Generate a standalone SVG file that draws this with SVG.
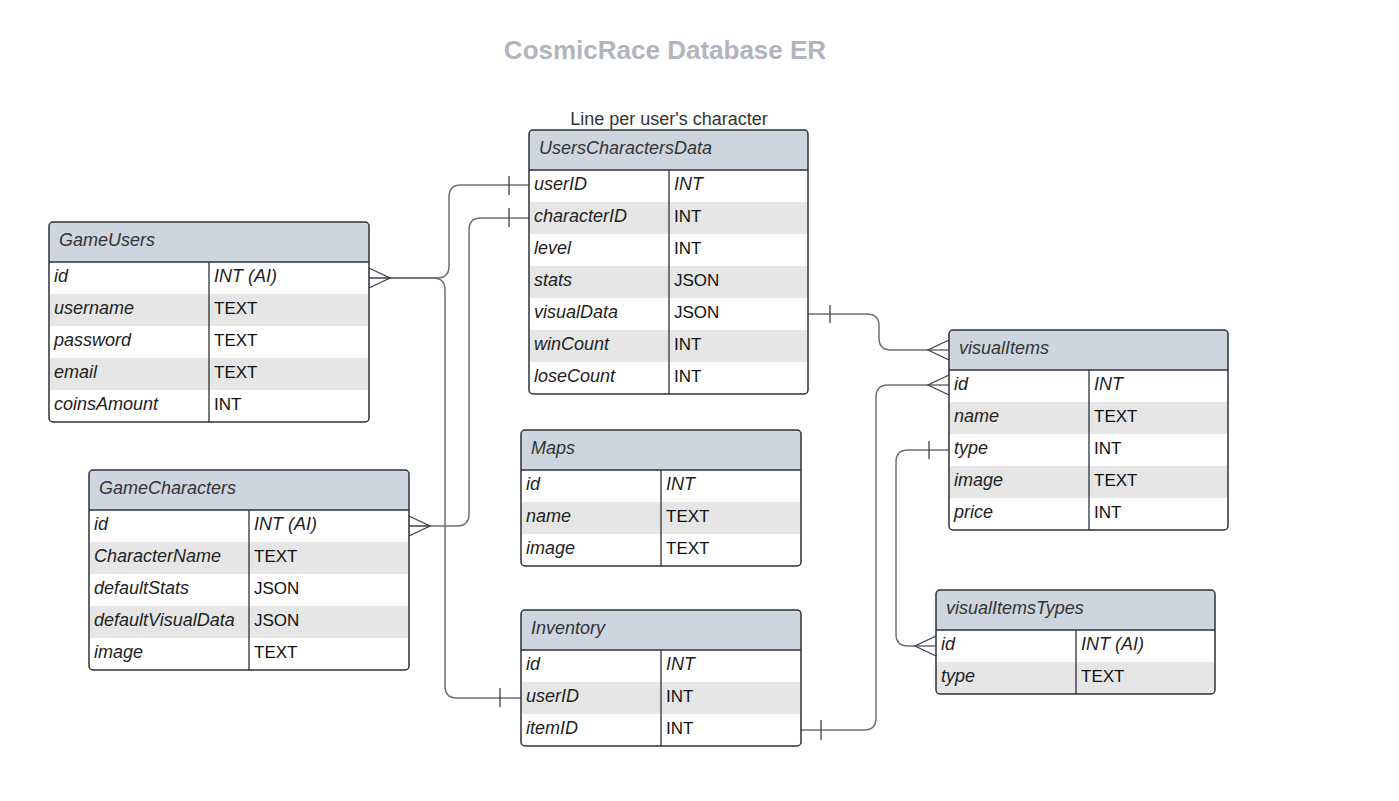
<svg xmlns="http://www.w3.org/2000/svg" width="1399" height="801" viewBox="0 0 1399 801">
<style>
.hdr{fill:#cfd5de}
.alt{fill:#e6e6e6}
.sep{stroke:#2e3238;stroke-width:1.3;fill:none}
.box{fill:none;stroke:#2e3238;stroke-width:1.5}
.ht{font-family:"Liberation Sans",Arial,sans-serif;font-size:18px;font-style:italic;fill:#333}
.fn{font-family:"Liberation Sans",Arial,sans-serif;font-size:18px;font-style:italic;fill:#222}
.ty{font-family:"Liberation Sans",Arial,sans-serif;font-size:17px;fill:#111}
.tyi{font-family:"Liberation Sans",Arial,sans-serif;font-size:18px;font-style:italic;fill:#222}
.conn{fill:none;stroke:#6b717a;stroke-width:1.5}
.mark{fill:none;stroke:#3d434b;stroke-width:1.3}
</style>
<rect width="1399" height="801" fill="#ffffff"/>
<text x="665" y="59" text-anchor="middle" font-family="'Liberation Sans',Arial,sans-serif" font-size="26" font-weight="bold" fill="#b1b5bd">CosmicRace Database ER</text>
<text x="669" y="125" text-anchor="middle" font-family="'Liberation Sans',Arial,sans-serif" font-size="18" fill="#333">Line per user's character</text>

<g id="connectors">
<path class="conn" d="M390,278 H437 Q449,278 449,266 V197 Q449,185 461,185 H529"/>
<path class="conn" d="M390,278 H433 Q445,278 445,290 V686 Q445,698 457,698 H521"/>
<path class="mark" d="M369,268 L390,278 L369,288 M369,278 H390"/>
<path class="mark" d="M509,176 V195 M500,688 V707"/>
<path class="conn" d="M430,526 H457 Q469,526 469,514 V230 Q469,218 481,218 H529"/>
<path class="mark" d="M409,516 L430,526 L409,536 M409,526 H430 M509,208 V227"/>
<path class="conn" d="M808,314 H867 Q879,314 879,326 V338 Q879,350 891,350 H949"/>
<path class="mark" d="M830,305 V323 M949,340 L928,350 L949,360"/>
<path class="conn" d="M949,385 H888 Q876,385 876,397 V718 Q876,730 864,730 H801"/>
<path class="mark" d="M949,375 L928,385 L949,395 M821,720 V740"/>
<path class="conn" d="M949,450 H908 Q896,450 896,462 V634 Q896,646 908,646 H936"/>
<path class="mark" d="M929,441 V459 M936,636 L915,646 L936,656"/>
</g>

<g id="GameUsers">
<path class="hdr" d="M49,262 V226 Q49,222 53,222 H365 Q369,222 369,226 V262 Z"/>
<rect class="alt" x="49" y="294" width="320" height="32"/>
<rect class="alt" x="49" y="358" width="320" height="32"/>
<path class="sep" d="M49,262 H369 M209,262 V422"/>
<rect class="box" x="49" y="222" width="320" height="200" rx="4"/>
<text class="ht" x="59" y="246">GameUsers</text>
<text class="fn" x="54" y="282">id</text><text class="tyi" x="214" y="282">INT (AI)</text>
<text class="fn" x="54" y="314">username</text><text class="ty" x="214" y="314">TEXT</text>
<text class="fn" x="54" y="346">password</text><text class="ty" x="214" y="346">TEXT</text>
<text class="fn" x="54" y="378">email</text><text class="ty" x="214" y="378">TEXT</text>
<text class="fn" x="54" y="410">coinsAmount</text><text class="ty" x="214" y="410">INT</text>
</g>

<g id="GameCharacters">
<path class="hdr" d="M89,510 V474 Q89,470 93,470 H405 Q409,470 409,474 V510 Z"/>
<rect class="alt" x="89" y="542" width="320" height="32"/>
<rect class="alt" x="89" y="606" width="320" height="32"/>
<path class="sep" d="M89,510 H409 M249,510 V670"/>
<rect class="box" x="89" y="470" width="320" height="200" rx="4"/>
<text class="ht" x="99" y="494">GameCharacters</text>
<text class="fn" x="94" y="530">id</text><text class="tyi" x="254" y="530">INT (AI)</text>
<text class="fn" x="94" y="562">CharacterName</text><text class="ty" x="254" y="562">TEXT</text>
<text class="fn" x="94" y="594">defaultStats</text><text class="ty" x="254" y="594">JSON</text>
<text class="fn" x="94" y="626">defaultVisualData</text><text class="ty" x="254" y="626">JSON</text>
<text class="fn" x="94" y="658">image</text><text class="ty" x="254" y="658">TEXT</text>
</g>

<g id="UsersCharactersData">
<path class="hdr" d="M529,170 V134 Q529,130 533,130 H804 Q808,130 808,134 V170 Z"/>
<rect class="alt" x="529" y="202" width="279" height="32"/>
<rect class="alt" x="529" y="266" width="279" height="32"/>
<rect class="alt" x="529" y="330" width="279" height="32"/>
<path class="sep" d="M529,170 H808 M669,170 V394"/>
<rect class="box" x="529" y="130" width="279" height="264" rx="4"/>
<text class="ht" x="539" y="154">UsersCharactersData</text>
<text class="fn" x="534" y="190">userID</text><text class="tyi" x="674" y="190">INT</text>
<text class="fn" x="534" y="222">characterID</text><text class="ty" x="674" y="222">INT</text>
<text class="fn" x="534" y="254">level</text><text class="ty" x="674" y="254">INT</text>
<text class="fn" x="534" y="286">stats</text><text class="ty" x="674" y="286">JSON</text>
<text class="fn" x="534" y="318">visualData</text><text class="ty" x="674" y="318">JSON</text>
<text class="fn" x="534" y="350">winCount</text><text class="ty" x="674" y="350">INT</text>
<text class="fn" x="534" y="382">loseCount</text><text class="ty" x="674" y="382">INT</text>
</g>

<g id="Maps">
<path class="hdr" d="M521,470 V434 Q521,430 525,430 H797 Q801,430 801,434 V470 Z"/>
<rect class="alt" x="521" y="502" width="280" height="32"/>
<path class="sep" d="M521,470 H801 M661,470 V566"/>
<rect class="box" x="521" y="430" width="280" height="136" rx="4"/>
<text class="ht" x="531" y="454">Maps</text>
<text class="fn" x="526" y="490">id</text><text class="tyi" x="666" y="490">INT</text>
<text class="fn" x="526" y="522">name</text><text class="ty" x="666" y="522">TEXT</text>
<text class="fn" x="526" y="554">image</text><text class="ty" x="666" y="554">TEXT</text>
</g>

<g id="Inventory">
<path class="hdr" d="M521,650 V614 Q521,610 525,610 H797 Q801,610 801,614 V650 Z"/>
<rect class="alt" x="521" y="682" width="280" height="32"/>
<path class="sep" d="M521,650 H801 M661,650 V746"/>
<rect class="box" x="521" y="610" width="280" height="136" rx="4"/>
<text class="ht" x="531" y="634">Inventory</text>
<text class="fn" x="526" y="670">id</text><text class="tyi" x="666" y="670">INT</text>
<text class="fn" x="526" y="702">userID</text><text class="ty" x="666" y="702">INT</text>
<text class="fn" x="526" y="734">itemID</text><text class="ty" x="666" y="734">INT</text>
</g>

<g id="visualItems">
<path class="hdr" d="M949,370 V334 Q949,330 953,330 H1224 Q1228,330 1228,334 V370 Z"/>
<rect class="alt" x="949" y="402" width="279" height="32"/>
<rect class="alt" x="949" y="466" width="279" height="32"/>
<path class="sep" d="M949,370 H1228 M1089,370 V530"/>
<rect class="box" x="949" y="330" width="279" height="200" rx="4"/>
<text class="ht" x="959" y="354">visualItems</text>
<text class="fn" x="954" y="390">id</text><text class="tyi" x="1094" y="390">INT</text>
<text class="fn" x="954" y="422">name</text><text class="ty" x="1094" y="422">TEXT</text>
<text class="fn" x="954" y="454">type</text><text class="ty" x="1094" y="454">INT</text>
<text class="fn" x="954" y="486">image</text><text class="ty" x="1094" y="486">TEXT</text>
<text class="fn" x="954" y="518">price</text><text class="ty" x="1094" y="518">INT</text>
</g>

<g id="visualItemsTypes">
<path class="hdr" d="M936,630 V594 Q936,590 940,590 H1211 Q1215,590 1215,594 V630 Z"/>
<path class="alt" d="M936,662 H1215 V690 Q1215,694 1211,694 H940 Q936,694 936,690 Z"/>
<path class="sep" d="M936,630 H1215 M1076,630 V694"/>
<rect class="box" x="936" y="590" width="279" height="104" rx="4"/>
<text class="ht" x="946" y="614">visualItemsTypes</text>
<text class="fn" x="941" y="650">id</text><text class="tyi" x="1081" y="650">INT (AI)</text>
<text class="fn" x="941" y="682">type</text><text class="ty" x="1081" y="682">TEXT</text>
</g>
</svg>
